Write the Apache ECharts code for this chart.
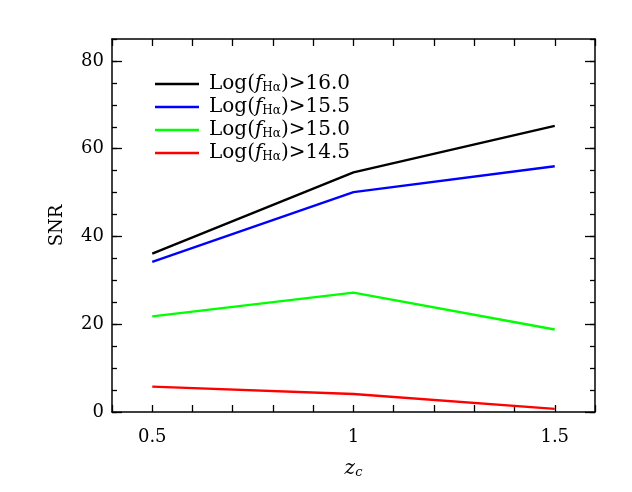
<!DOCTYPE html>
<html>
<head>
<meta charset="utf-8">
<script src="https://cdn.jsdelivr.net/npm/echarts@6/dist/echarts.min.js"></script>
<style>
  html, body { margin: 0; padding: 0; background: #fff; }
  #chart { width: 632px; height: 492px; }
</style>
</head>
<body>
<div id="chart"></div>
<script>
// redshift bins
const zc = [0.5, 1.0, 1.5];
// SNR per flux cut
const snr160 = [36.1, 54.6, 65.2];
const snr155 = [34.2, 50.1, 56.0];
const snr150 = [21.8, 27.2, 18.8];
const snr145 = [5.8, 4.1, 0.7];
const cuts = ['16.0', '15.5', '15.0', '14.5'];
const colors = ['#000000', '#0000ff', '#00ff00', '#ff0000'];
const xTicks = [0.5, 1, 1.5];
const yTicks = [0, 20, 40, 60, 80];

const serif = 'DejaVu Serif';
const chart = echarts.init(document.getElementById('chart'));

const pairs = vals => zc.map((z, i) => [z, vals[i]]);
const allSnr = [snr160, snr155, snr150, snr145];

// frame axes: main (bottom/left, labelled) + mirrored (top/right)
const xBase = {
  type: 'value', min: 0.4, max: 1.6, interval: 0.1,
  splitLine: { show: false },
  axisLine: { show: true, onZero: false, lineStyle: { color: '#000', width: 1.5 } },
  axisTick: { show: true, inside: true, length: 7, lineStyle: { color: '#000', width: 1.3 } },
};
const yMajor = {
  type: 'value', min: 0, max: 85, interval: 20,
  splitLine: { show: false },
  axisLine: { show: true, onZero: false, lineStyle: { color: '#000', width: 1.5 } },
  axisTick: { show: true, inside: true, length: 10, customValues: yTicks, lineStyle: { color: '#000', width: 1.3 } },
  minorTick: { show: false },
};
const yMinor = {
  type: 'value', min: 0, max: 85, interval: 5,
  splitLine: { show: false },
  axisLine: { show: false },
  axisLabel: { show: false },
  axisTick: { show: true, inside: true, length: 5, lineStyle: { color: '#000', width: 1.3 } },
};

const option = {
  animation: false,
  backgroundColor: '#fff',
  grid: { left: 112, right: 37, top: 39, bottom: 80 },
  legend: {
    orient: 'vertical',
    left: 150,
    top: 69,
    itemWidth: 44,
    itemHeight: 2.5,
    itemGap: 3,
    icon: 'rect',
    data: cuts.map(c => 'Log(f_Hα)>' + c),
    formatter: name => {
      const cut = name.split('>')[1];
      return '{a|Log(}{f|f}{s|Hα}{n|)>' + cut + '}';
    },
    textStyle: {
      fontFamily: serif,
      fontSize: 20,
      color: '#000',
      rich: {
        a: { fontFamily: serif, fontSize: 20, color: '#000', padding: [0, 0, 0, 5], lineHeight: 22 },
        f: { fontFamily: serif, fontSize: 20, fontStyle: 'italic', color: '#000', lineHeight: 22 },
        s: { fontFamily: serif, fontSize: 12, color: '#000', padding: [8, 0, 0, 0], lineHeight: 22 },
        n: { fontFamily: serif, fontSize: 20, color: '#000', lineHeight: 22 },
      },
    },
  },
  xAxis: [
    Object.assign({}, xBase, {
      position: 'bottom',
      name: '{z|z}{c|c}',
      nameLocation: 'middle',
      nameGap: 46,
      nameTextStyle: {
        rich: {
          z: { fontFamily: serif, fontSize: 20, fontStyle: 'italic', color: '#000' },
          c: { fontFamily: serif, fontSize: 13, fontStyle: 'italic', color: '#000', padding: [8, 0, 0, 0] },
        },
      },
      axisLabel: {
        show: true, margin: 16, customValues: xTicks,
        fontFamily: serif, fontSize: 18, color: '#000',
        formatter: v => String(v),
      },
    }),
    Object.assign({}, xBase, { position: 'top', axisLabel: { show: false } }),
  ],
  yAxis: [
    Object.assign({}, yMajor, {
      position: 'left',
      name: 'SNR',
      nameLocation: 'middle',
      nameGap: 46,
      nameRotate: 90,
      nameTextStyle: { fontFamily: serif, fontSize: 18, color: '#000' },
      axisLabel: {
        show: true, margin: 8, customValues: yTicks,
        fontFamily: serif, fontSize: 18, color: '#000',
      },
    }),
    Object.assign({}, yMajor, { position: 'right', axisLabel: { show: false } }),
    Object.assign({}, yMinor, { position: 'left' }),
    Object.assign({}, yMinor, { position: 'right' }),
  ],
  series: allSnr.map((vals, i) => ({
    name: 'Log(f_Hα)>' + cuts[i],
    type: 'line',
    xAxisIndex: 0,
    yAxisIndex: 0,
    data: pairs(vals),
    symbol: 'none',
    lineStyle: { color: colors[i], width: 2.3 },
    itemStyle: { color: colors[i] },
  })),
};

chart.setOption(option);
</script>
</body>
</html>
